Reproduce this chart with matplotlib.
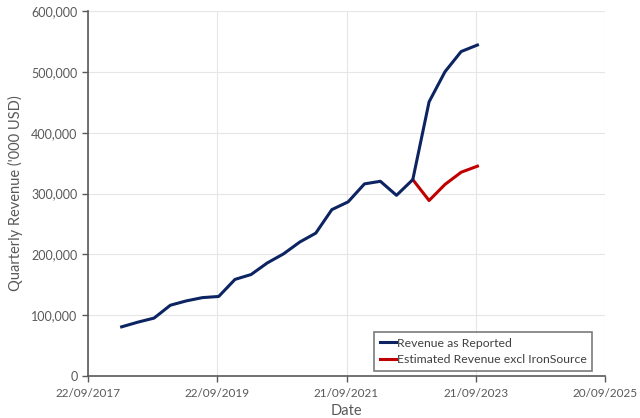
import matplotlib
matplotlib.use("Agg")
import matplotlib.pyplot as plt
import numpy as np
import datetime as dt

plt.rcParams['font.family'] = ['Lato', 'DejaVu Sans']

reported_dates = ["2018-03-31", "2018-06-30", "2018-09-30", "2018-12-31",
                  "2019-03-31", "2019-06-30", "2019-09-30", "2019-12-31",
                  "2020-03-31", "2020-06-30", "2020-09-30", "2020-12-31",
                  "2021-03-31", "2021-06-30", "2021-09-30", "2021-12-31",
                  "2022-03-31", "2022-06-30", "2022-09-30", "2022-12-31",
                  "2023-03-31", "2023-06-30", "2023-09-30"]
reported_revenue = [80824, 88476, 95187, 116339,
                    123469, 128848, 130750, 158802,
                    166849, 185832, 200788, 220277,
                    234846, 273559, 286346, 315865,
                    320126, 297040, 322875, 450793,
                    500358, 533473, 544214]
excl_dates = ["2022-09-30", "2022-12-31", "2023-03-31", "2023-06-30", "2023-09-30"]
excl_revenue = [322875, 288500, 315000, 335000, 345000]
tick_labels = ["22/09/2017", "22/09/2019", "21/09/2021", "21/09/2023", "20/09/2025"]

def to_dates(lst):
    return [dt.datetime.strptime(s, "%Y-%m-%d") for s in lst]

fig = plt.figure(figsize=(6.4, 4.18), dpi=100)
ax = fig.add_axes([0.1375, 0.1005, 0.808, 0.873])

ax.plot(to_dates(reported_dates), reported_revenue, color='#0c2461', lw=2.2,
        label='Revenue as Reported', zorder=3)
ax.plot(to_dates(excl_dates), excl_revenue, color='#c00000', lw=2.2,
        label='Estimated Revenue excl IronSource', zorder=2)

tick_dates = [dt.datetime.strptime(s, "%d/%m/%Y") for s in tick_labels]
ax.set_xlim(tick_dates[0], tick_dates[-1])
ax.set_xticks(tick_dates)
ax.set_xticklabels(tick_labels)
ax.set_ylim(0, 600000)
yt = np.arange(0, 600001, 100000)
ax.set_yticks(yt)
ax.set_yticklabels([f"{v:,}" for v in yt])

ax.grid(True, color='#e6e6e6', lw=0.8)
ax.set_axisbelow(True)
for s in ['top', 'right']:
    ax.spines[s].set_visible(False)
for s in ['left', 'bottom']:
    ax.spines[s].set_color('#595959')
    ax.spines[s].set_linewidth(1.2)
ax.tick_params(colors='#595959', labelsize=9, length=4, width=1, direction='out')
ax.tick_params(axis='x', pad=5, labelsize=8.5)

ax.set_xlabel('Date', fontsize=10.5, color='#595959', labelpad=3)
ax.set_ylabel("Quarterly Revenue ('000 USD)", fontsize=10.5, color='#595959', labelpad=6)

leg = ax.legend(loc='lower right', bbox_to_anchor=(0.975, 0.015), fontsize=8.8,
                frameon=True, fancybox=False, handlelength=1.3, handletextpad=0.1,
                borderpad=0.45, labelspacing=0.45, borderaxespad=0)
leg.get_frame().set_edgecolor('#595959')
leg.get_frame().set_linewidth(1.2)
for t in leg.get_texts():
    t.set_color('#404040')

fig.savefig('out.png', dpi=100)
